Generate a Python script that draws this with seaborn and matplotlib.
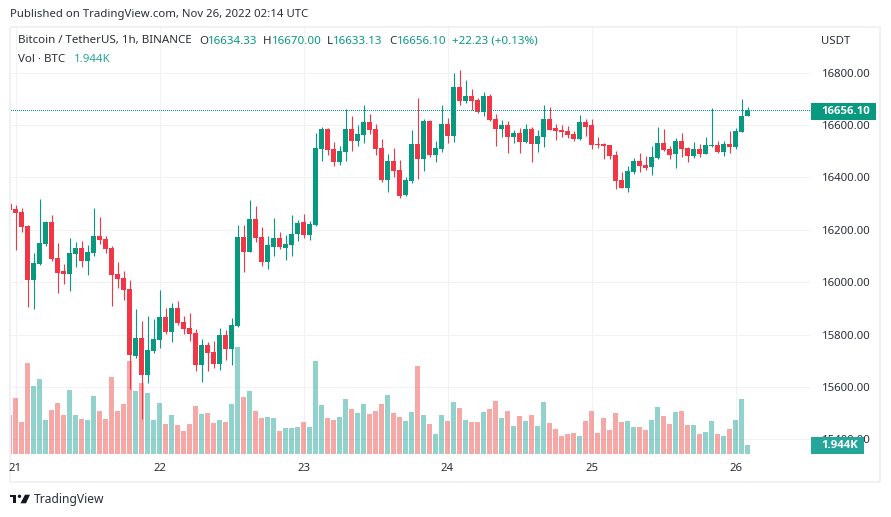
import numpy as np
import pandas as pd
import seaborn as sns
import matplotlib
matplotlib.use("Agg")
import matplotlib.pyplot as plt
from matplotlib.patches import Rectangle, Polygon, Circle

W, H = 891, 517

# hourly candles, BTC/USDT
highs = [16299,16295,16283,16218,16112,16318,16234,16257,16150,16070,16169,16154,16157,16142,16283,16249,16176,16138,16077,16043,
         16008,15898,15852,15871,15860,15970,15902,15921,15928,15871,15882,15821,15783,15772,15776,15825,15818,15863,16218,16218,
         16314,16291,16211,16176,16245,16192,16180,16257,16238,16260,16234,16570,16593,16589,16535,16520,16661,16635,16600,16677,
         16642,16604,16547,16490,16512,16467,16402,16581,16703,16623,16619,16539,16677,16627,16799,16810,16772,16738,16703,16726,
         16719,16642,16619,16616,16581,16589,16604,16593,16581,16677,16669,16604,16600,16596,16577,16638,16623,16623,16554,16532,
         16524,16501,16421,16444,16474,16493,16482,16520,16593,16585,16520,16551,16570,16516,16535,16528,16554,16665,16539,16539,
         16577,16589,16700,16670]
lows = [16276,16123,16192,15905,15898,16066,16138,16081,15959,15993,15966,16058,16058,16028,16100,16146,16112,15909,15978,15932,
        15592,15711,15478,15615,15730,15749,15802,15772,15837,15802,15776,15661,15619,15661,15672,15665,15703,15684,15829,16039,
        16115,16154,16062,16050,16100,16127,16085,16100,16157,16169,16161,16215,16463,16486,16444,16448,16463,16501,16520,16532,
        16566,16486,16383,16344,16402,16322,16329,16379,16394,16425,16478,16459,16497,16532,16535,16677,16684,16658,16646,16635,
        16616,16520,16554,16493,16532,16493,16532,16459,16497,16516,16581,16543,16554,16551,16539,16543,16558,16509,16512,16470,
        16470,16356,16360,16344,16413,16421,16428,16409,16470,16501,16470,16436,16478,16459,16474,16478,16490,16516,16493,16482,
        16493,16509,16574,16633.13]
opens = [16299,16280,16268,16215,16008,16070,16146,16230,16092,16043,16031,16108,16131,16081,16112,16176,16165,16131,16031,16016,
         15974,15718,15787,15646,15737,15779,15867,15810,15902,15848,15825,15806,15684,15760,15734,15688,15798,15745,15833,16173,
         16115,16241,16173,16077,16134,16169,16131,16142,16184,16230,16180,16218,16509,16585,16509,16459,16497,16585,16539,16562,
         16612,16585,16512,16390,16463,16428,16333,16386,16528,16470,16616,16486,16509,16604,16558,16745,16692,16711,16696,16650,
         16711,16623,16585,16600,16554,16570,16535,16585,16528,16554,16623,16589,16581,16577,16566,16547,16612,16600,16528,16528,
         16524,16486,16390,16360,16421,16463,16448,16440,16474,16532,16509,16490,16539,16512,16482,16509,16490,16520,16524,16497,
         16528,16516,16574,16634.33]
closes = [16276,16264,16211,16008,16073,16150,16230,16089,16035,16031,16112,16131,16081,16115,16176,16161,16127,16028,16012,15970,
          15722,15787,15646,15741,15783,15867,15810,15902,15844,15821,15802,15684,15760,15730,15688,15798,15745,15837,16173,16115,
          16241,16169,16077,16142,16169,16134,16146,16184,16226,16180,16222,16512,16585,16505,16459,16501,16585,16539,16566,16612,
          16581,16509,16390,16463,16425,16329,16390,16528,16470,16616,16486,16512,16604,16558,16745,16692,16711,16692,16650,16711,
          16619,16585,16600,16554,16570,16535,16585,16528,16558,16623,16581,16577,16574,16562,16547,16612,16593,16524,16524,16520,
          16482,16386,16360,16425,16463,16444,16436,16478,16532,16505,16486,16539,16509,16482,16509,16490,16524,16524,16497,16528,
          16516,16577,16635,16656.10]
# volume in thousands of BTC
volumes = [8.42,12.10,6.91,19.66,14.69,16.20,7.34,9.50,11.02,8.42,13.82,8.42,7.56,7.34,12.53,9.29,7.56,16.63,9.29,10.80,
           20.09,13.61,15.34,13.18,7.34,11.02,6.48,8.42,6.26,4.97,6.48,10.37,8.64,8.86,6.70,7.34,6.91,10.80,23.11,12.31,
           13.61,9.29,7.78,7.99,7.78,4.97,5.62,5.62,5.83,6.91,5.83,20.09,10.58,7.78,7.34,7.99,11.88,9.72,8.86,10.80,
           8.64,9.29,10.80,12.74,8.86,7.99,7.13,9.07,19.01,8.42,6.48,4.32,8.42,7.13,11.23,9.94,7.34,6.91,6.91,9.07,
           9.72,11.45,7.78,9.29,6.05,8.21,7.13,8.42,6.05,11.23,6.70,5.40,3.89,4.32,4.54,3.89,7.13,9.29,4.54,7.78,
           5.18,8.86,6.91,7.13,5.83,5.83,5.18,7.34,10.15,8.21,6.48,9.07,9.29,6.26,6.26,4.32,4.75,7.13,4.32,3.89,
           5.40,7.34,11.88,1.944]

price_ticks = [15400, 15600, 15800, 16000, 16200, 16400, 16600, 16800]
day_bars = [1, 25, 49, 73, 97, 121]
day_labels = ["21", "22", "23", "24", "25", "26"]
last_price = 16656.10

UP = "#089981"
DOWN = "#f23645"
TEXT = "#2a2e39"
GRID = "#f2f2f4"
FRAME = "#f0f1f6"

df = pd.DataFrame({"bar": range(len(opens)), "open": opens, "high": highs, "low": lows,
                   "close": closes, "vol": volumes})
df["dir"] = np.where(df["close"] >= df["open"], "up", "down")

sns.set_theme(style="whitegrid", rc={"grid.color": GRID, "grid.linewidth": 0.72})
plt.rcParams["font.family"] = ["Noto Sans", "DejaVu Sans"]

fig = plt.figure(figsize=(W / 100, H / 100), dpi=100, facecolor="white")


def fx(x):
    return x / W


def fy(y):
    return 1 - y / H


def label(x, y, s, size=8.2, color=TEXT, **kw):
    kw.setdefault("va", "center")
    return fig.text(fx(x), fy(y), s, fontsize=size, color=color, **kw)


# pane in pixels: x 11-810, y 28-454, bars sit at 9.5 + 6 * index
rect = [fx(11), fy(454), fx(810) - fx(11), fy(28) - fy(454)]
xlim = ((11 - 9.5) / 6, (810 - 9.5) / 6)
ylim = (15344.1, 16970.7)

price_ax = fig.add_axes(rect, zorder=1)
vol_ax = fig.add_axes(rect, zorder=2)
candle_ax = fig.add_axes(rect, zorder=3)

price_ax.set_xlim(xlim)
price_ax.set_ylim(ylim)
price_ax.yaxis.tick_right()
price_ax.set_yticks(price_ticks, [f"{v:.2f}" for v in price_ticks])
price_ax.set_xticks(day_bars, day_labels)
price_ax.tick_params(axis="y", length=0, pad=8.5, labelsize=8.2, labelcolor=TEXT)
price_ax.tick_params(axis="x", length=0, pad=6.5, labelsize=8.2, labelcolor=TEXT)
price_ax.grid(True)
sns.despine(ax=price_ax, left=True, bottom=True, right=True, top=True)

sns.barplot(data=df, x="bar", y="vol", hue="dir", palette={"up": "#26a69a", "down": "#ef5350"},
            native_scale=True, dodge=False, width=5 / 6, alpha=0.5, linewidth=0, saturation=1,
            legend=False, ax=vol_ax)
vol_ax.set_xlim(xlim)
vol_ax.set_ylim(0, 92)
vol_ax.axis("off")

for name, color in [("up", UP), ("down", DOWN)]:
    part = df[df["dir"] == name]
    candle_ax.vlines(part["bar"], part["low"], part["high"], color=color, linewidth=0.8, snap=True)
    bottom = part[["open", "close"]].min(axis=1)
    height = part[["open", "close"]].max(axis=1) - bottom
    candle_ax.bar(part["bar"], height, bottom=bottom, width=5 / 6, color=color, linewidth=0)
candle_ax.axhline(last_price, color=UP, linewidth=0.72, linestyle=(0, (1, 2)),
                  dash_capstyle="butt", antialiased=False)
candle_ax.set_xlim(xlim)
candle_ax.set_ylim(ylim)
candle_ax.axis("off")

# outer frame
fig.add_artist(Rectangle((fx(10), fy(482)), fx(880) - fx(10), fy(27) - fy(482), transform=fig.transFigure,
                         fill=False, edgecolor=FRAME, linewidth=1.44, zorder=0))

# price and volume tags on the scale
fig.add_artist(Rectangle((fx(811), fy(120)), fx(65), fy(103) - fy(120), transform=fig.transFigure,
                         facecolor=UP, edgecolor="none", zorder=5))
label(821, 111.5, "16656.10", color="white", fontweight="bold", family=["Open Sans", "DejaVu Sans"], zorder=6)
fig.add_artist(Rectangle((fx(811), fy(454)), fx(53), fy(437) - fy(454), transform=fig.transFigure,
                         facecolor="#26a69a", edgecolor="none", zorder=5))
label(821, 445.5, "1.944K", color="white", fontweight="bold", family=["Open Sans", "DejaVu Sans"], zorder=6)

# header texts
label(10, 14.5, "Published on TradingView.com, Nov 26, 2022 02:14 UTC", size=8.2)
label(18, 41, "Bitcoin / TetherUS, 1h, BINANCE", size=8.3)
for x, s in [(199, "O"), (263, "H"), (327, "L"), (389, "C")]:
    label(x, 41, s, size=8.3)
for x, s in [(208, "16634.33"), (272, "16670.00"), (333, "16633.13"), (397, "16656.10"),
             (452, "+22.23 (+0.13%)")]:
    label(x, 41, s, size=8.3, color=UP)
label(18, 59, "Vol · BTC", size=8.3)
label(74, 59, "1.944K", size=8.3, color="#26a69a")
label(821, 41, "USDT", size=8.2)

# logo
logo = [Polygon([(10, 494.7), (16, 494.7), (16, 503.3), (13, 503.3), (13, 497), (10, 497)]),
        Polygon([(25, 494.7), (30, 494.7), (26, 503.3), (20.5, 503.3)])]
for p in logo:
    p.set_xy([(fx(a), fy(b)) for a, b in p.get_xy()])
    p.set_transform(fig.transFigure)
    p.set_facecolor("#131722")
    p.set_edgecolor("none")
    fig.add_artist(p)
fig.add_artist(Circle((19.5, H - 496.3), 1.7, transform=None, facecolor="#131722", edgecolor="none"))
label(34, 499, "TradingView", size=8.7)

fig.savefig("out.png", dpi=100)
